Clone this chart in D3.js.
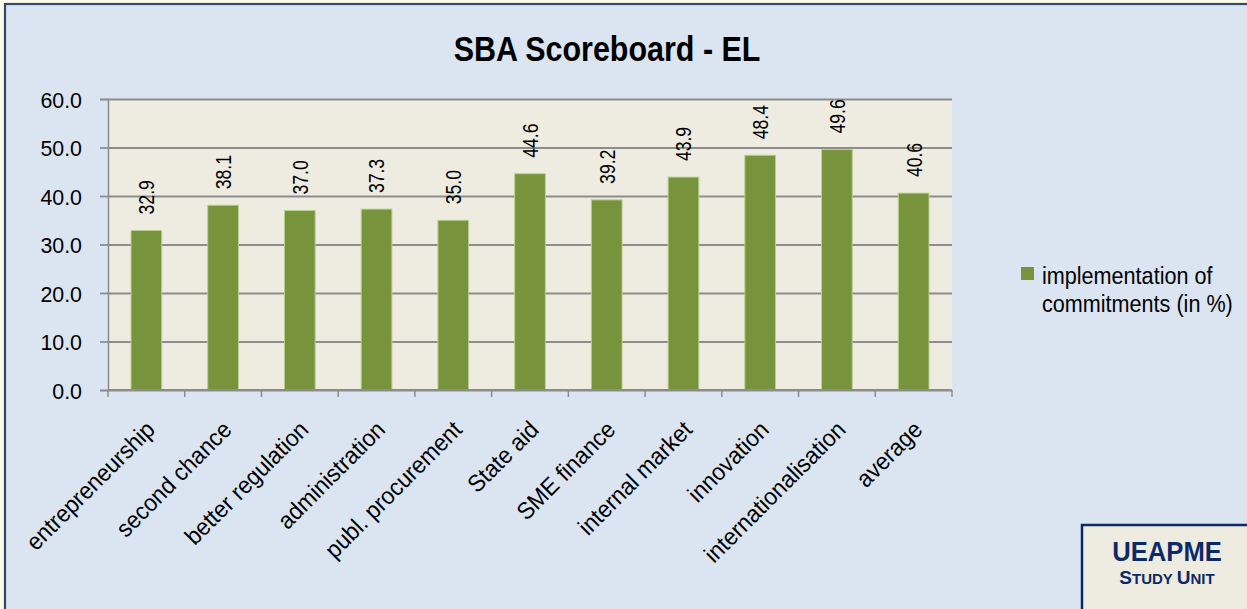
<!DOCTYPE html>
<html>
<head>
<meta charset="utf-8">
<script src="https://cdn.jsdelivr.net/npm/d3@7"></script>
<style>
  body { margin: 0; background: #fdfbe8; }
  svg { display: block; font-family: "Liberation Sans", Arial, sans-serif; }
</style>
</head>
<body>
<div id="chart"></div>
<script>
const categories = ['entrepreneurship', 'second chance', 'better regulation', 'administration',
  'publ. procurement', 'State aid', 'SME finance', 'internal market', 'innovation',
  'internationalisation', 'average'];
const values = [32.9, 38.1, 37.0, 37.3, 35.0, 44.6, 39.2, 43.9, 48.4, 49.6, 40.6];
const yTicks = [0, 10, 20, 30, 40, 50, 60];
const seriesName = ['implementation of', 'commitments (in %)'];

const W = 1247, H = 609;
const plot = {left: 108, right: 952, top: 99, bottom: 390};

const svg = d3.select('#chart').append('svg')
  .attr('width', W)
  .attr('height', H);

// chart frame
svg.append('rect').attr('width', W).attr('height', H).attr('fill', '#fdfbe8');
svg.append('rect')
  .attr('x', 5).attr('y', 4)
  .attr('width', W + 10).attr('height', H + 10)
  .attr('fill', '#dbe5f1')
  .attr('stroke', '#2f4a6d')
  .attr('stroke-width', 2.2);

svg.append('text')
  .attr('transform', 'translate(607,61) scale(0.87,1)')
  .attr('text-anchor', 'middle')
  .attr('font-size', 35)
  .attr('font-weight', 'bold')
  .attr('fill', '#000')
  .text('SBA Scoreboard - EL');

let x = d3.scaleBand()
  .domain(categories)
  .range([plot.left, plot.right])
  .paddingInner(0.6)
  .paddingOuter(0.3);

let y = d3.scaleLinear()
  .domain([0, 60])
  .range([plot.bottom, plot.top]);

svg.append('rect')
  .attr('x', plot.left).attr('y', plot.top)
  .attr('width', plot.right - plot.left)
  .attr('height', plot.bottom - plot.top)
  .attr('fill', '#eeece1');

// gridlines
let grid = svg.append('g')
  .attr('transform', `translate(${plot.left},0)`)
  .call(d3.axisLeft(y).tickValues(yTicks).tickSize(-(plot.right - plot.left)).tickFormat(''));
grid.select('.domain').remove();
grid.selectAll('line').attr('stroke', '#8c8c8c').attr('stroke-width', 1.8);

// y axis
let yAxis = svg.append('g')
  .attr('transform', `translate(${plot.left},0)`)
  .call(d3.axisLeft(y).tickValues(yTicks).tickSize(8).tickFormat(d3.format('.1f')));
yAxis.select('.domain').attr('stroke', '#8c8c8c').attr('stroke-width', 1.5);
yAxis.selectAll('line').attr('stroke', '#8c8c8c').attr('stroke-width', 1.8);
yAxis.selectAll('text')
  .attr('font-size', 23)
  .attr('fill', '#000')
  .attr('dy', '0.36em')
  .attr('x', 0)
  .attr('transform', 'translate(-26,0) scale(0.93,1)');

// bars
svg.append('g').selectAll('rect')
  .data(values)
  .enter()
  .append('rect')
  .attr('x', (d, i) => x(categories[i]))
  .attr('y', d => y(d))
  .attr('width', x.bandwidth())
  .attr('height', d => y(0) - y(d))
  .attr('fill', '#77933c')
  .attr('stroke', '#b9cf90')
  .attr('stroke-width', 1);

// data labels
svg.append('g').selectAll('text')
  .data(values)
  .enter()
  .append('text')
  .attr('transform', (d, i) => `translate(${x(categories[i]) + x.bandwidth() / 2},${y(d) - 16}) rotate(-90) scale(0.8,1)`)
  .attr('dy', '0.36em')
  .attr('font-size', 22)
  .attr('fill', '#000')
  .text(d => d3.format('.1f')(d));

// x axis line and boundary ticks
svg.append('line')
  .attr('x1', plot.left).attr('x2', plot.right)
  .attr('y1', y(0)).attr('y2', y(0))
  .attr('stroke', '#8c8c8c').attr('stroke-width', 1.8);

let bounds = categories.map(c => x(c) - x.step() * x.paddingInner() / 2)
bounds.push(plot.right)

svg.append('g').selectAll('line')
  .data(bounds)
  .enter()
  .append('line')
  .attr('x1', d => d).attr('x2', d => d)
  .attr('y1', y(0)).attr('y2', y(0) + 7)
  .attr('stroke', '#8c8c8c').attr('stroke-width', 1.5);

// category labels
svg.append('g').selectAll('text')
  .data(categories)
  .enter()
  .append('text')
  .attr('transform', d => `translate(${x(d) + x.bandwidth() / 2 + 4},${y(0) + 35}) rotate(-45) scale(0.94,1)`)
  .attr('text-anchor', 'end')
  .attr('dy', '0.36em')
  .attr('font-size', 24)
  .attr('fill', '#000')
  .text(d => d);

// legend
let legend = svg.append('g');
legend.append('rect')
  .attr('x', 1021).attr('y', 267)
  .attr('width', 13).attr('height', 13)
  .attr('fill', '#77933c');
legend.selectAll('text')
  .data(seriesName)
  .enter()
  .append('text')
  .attr('transform', (d, i) => `translate(1042,${284 + i * 28}) scale(0.9,1)`)
  .attr('font-size', 24)
  .attr('fill', '#000')
  .text(d => d);

// logo box
svg.append('rect')
  .attr('x', 1082).attr('y', 525)
  .attr('width', 200).attr('height', 120)
  .attr('fill', '#eeece1')
  .attr('stroke', '#0e2a66')
  .attr('stroke-width', 2.5);

svg.append('text')
  .attr('transform', 'translate(1167,561) scale(0.95,1)')
  .attr('text-anchor', 'middle')
  .attr('font-size', 27)
  .attr('font-weight', 'bold')
  .attr('fill', '#0e2a66')
  .text('UEAPME');

let unit = svg.append('text')
  .attr('transform', 'translate(1167,584)')
  .attr('text-anchor', 'middle')
  .attr('font-weight', 'bold')
  .attr('fill', '#0e2a66');
unit.append('tspan').attr('font-size', 19).text('S');
unit.append('tspan').attr('font-size', 15).text('TUDY ');
unit.append('tspan').attr('font-size', 19).text('U');
unit.append('tspan').attr('font-size', 15).text('NIT');
</script>
</body>
</html>
